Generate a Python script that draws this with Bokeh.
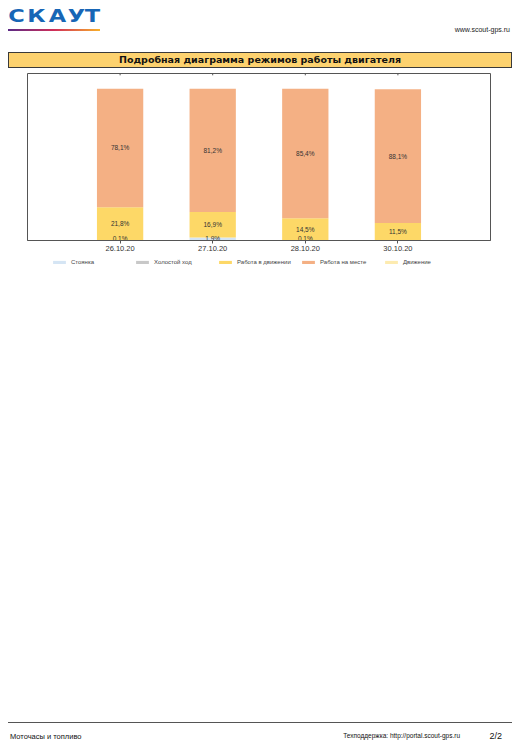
from bokeh.plotting import figure
from bokeh.layouts import column
from bokeh.models import (Range1d, FixedTicker, Legend, LegendItem, Spacer,
                          ColumnDataSource, LinearAxis, Div)
from bokeh.core.properties import value
from bokeh.embed import file_html
from bokeh.resources import INLINE

# ---------------- data ----------------
dates = ["26.10.20", "27.10.20", "28.10.20", "30.10.20"]
positions = [1, 2, 3, 4]
series_names = ["Стоянка", "Холостой ход", "Работа в движении", "Работа на месте", "Движение"]
stoyanka = [0.1, 1.9, 0.1, 0.0]
kholostoy = [0.0, 0.0, 0.0, 0.0]
rabota_dvizh = [21.8, 16.9, 14.5, 11.5]
rabota_mesto = [78.1, 81.2, 85.4, 88.1]
dvizhenie = [0.0, 0.0, 0.0, 0.0]
series_values = [stoyanka, kholostoy, rabota_dvizh, rabota_mesto, dvizhenie]
colors = ["#d5e5f4", "#c8c8c8", "#fdd867", "#f4b084", "#fdebb0"]

title_text = "Подробная диаграмма режимов работы двигателя"
logo_letters = ["С", "К", "А", "У", "Т"]
site_text = "www.scout-gps.ru"
footer_left = "Моточасы и топливо"
footer_mid = "Техподдержка: http://portal.scout-gps.ru"
footer_page = "2/2"

FONT = "Liberation Sans"

# ---------------- header (HTML) ----------------
logo_centers = [8, 28.5, 49, 68.5, 84.5]
logo_html = "".join(
    '<span style="position:absolute;left:%.1fpx;top:-1px;width:11px;text-align:center;'
    'white-space:nowrap;display:flex;justify-content:center;'
    'font-family:\'DejaVu Sans\';font-weight:bold;font-size:18px;line-height:18px;'
    'transform:scaleX(1.25);color:#1766b6;">%s</span>' % (c - 5.5, ch)
    for c, ch in zip(logo_centers, logo_letters))
header_html = (
    '<div style="position:relative;width:504px;height:65px;">'
    + logo_html +
    '<div style="position:absolute;left:0px;top:21px;width:92px;height:2px;'
    'background:linear-gradient(to right,#5b2a86,#d02f5a,#f8b02a);"></div>'
    '<span style="position:absolute;right:2px;top:18px;font-family:\'Liberation Sans\';'
    'font-size:7px;line-height:8px;color:#222;white-space:nowrap;">' + site_text + '</span>'
    '<div style="position:absolute;left:0px;top:44px;width:504px;height:16px;box-sizing:border-box;'
    'background:#fdd26f;border:1px solid #3a3a3a;text-align:center;font-family:\'DejaVu Sans\';'
    'font-weight:bold;font-size:9.5px;line-height:14px;color:#111;white-space:nowrap;">'
    + title_text + '</div>'
    '</div>')
hdr = Div(text=header_html, width=504, height=65, margin=0)

# ---------------- chart ----------------
p = figure(width=504, height=181, x_range=Range1d(0, 5), y_range=Range1d(0, 110),
           output_backend="svg", toolbar_location=None,
           x_axis_location=None, y_axis_location=None,
           min_border_left=19, min_border_right=22, min_border_top=0, min_border_bottom=14,
           outline_line_color="#555555", outline_line_width=1, margin=0)
p.grid.visible = False

data = {"x": positions}
for name, vals in zip(series_names, series_values):
    data[name] = vals
src = ColumnDataSource(data)
renderers = p.vbar_stack(stackers=series_names, x="x", width=0.5, color=colors,
                         line_color=None, source=src)

# segment labels
lx, ly, lt = [], [], []
for i, xpos in enumerate(positions):
    base = 0.0
    for vals in series_values:
        v = vals[i]
        if v > 0:
            lx.append(xpos)
            ly.append(max(base + v / 2, 1.3))
            lt.append(("%.1f%%" % v).replace(".", ","))
        base += v
p.text(x=lx, y=ly, text=lt, text_align="center", text_baseline="middle",
       text_font=value(FONT), text_font_size="6.5px", text_color="#333333")

# small ticks at top edge
p.segment(x0=positions, y0=[110] * 4, x1=positions, y1=[108.8] * 4,
          line_color="#555555", line_width=1)

xaxis = LinearAxis(ticker=FixedTicker(ticks=positions),
                   major_label_overrides={pos: d for pos, d in zip(positions, dates)},
                   axis_line_color="#555555", major_tick_line_color="#555555",
                   major_tick_out=3, major_tick_in=0, minor_tick_line_color=None,
                   major_label_standoff=2, major_label_text_font=FONT,
                   major_label_text_font_size="7.5px", major_label_text_color="#333333")
p.add_layout(xaxis, "below")

# ---------------- legend strip (same stacked series, zero-width so nothing is drawn) ----------------
pl = figure(width=504, height=16, x_range=Range1d(0, 5), y_range=Range1d(-2, -1),
            output_backend="svg", toolbar_location=None,
            x_axis_location=None, y_axis_location=None,
            min_border_left=19, min_border_right=22, min_border_top=0, min_border_bottom=0,
            outline_line_color=None, margin=0)
pl.grid.visible = False
leg_renderers = pl.vbar_stack(stackers=series_names, x="x", width=0, color=colors,
                              line_color=None, source=src)
legend = Legend(items=[LegendItem(label=n, renderers=[r]) for n, r in zip(series_names, leg_renderers)],
                orientation="horizontal", location=(24, 4),
                glyph_width=16, glyph_height=4, label_width=63, label_height=8,
                label_standoff=4, spacing=0, padding=2, margin=0,
                border_line_color=None, background_fill_alpha=0,
                label_text_font=FONT, label_text_font_size="6px",
                label_text_color="#444444")
pl.add_layout(legend)

# ---------------- footer (HTML) ----------------
footer_html = (
    '<div style="position:relative;width:504px;height:31px;">'
    '<div style="position:absolute;left:0px;top:10px;width:504px;height:0px;'
    'border-top:1px solid #555;"></div>'
    '<span style="position:absolute;left:2px;top:19.5px;font-family:\'Liberation Sans\';'
    'font-size:7.5px;line-height:9px;color:#111;white-space:nowrap;">' + footer_left + '</span>'
    '<span style="position:absolute;right:52px;top:20px;font-family:\'Liberation Sans\';'
    'font-size:6.5px;line-height:8px;color:#111;white-space:nowrap;">' + footer_mid + '</span>'
    '<span style="position:absolute;right:10px;top:18.5px;font-family:\'Liberation Sans\';'
    'font-size:9px;line-height:10px;color:#111;white-space:nowrap;">' + footer_page + '</span>'
    '</div>')
ftr = Div(text=footer_html, width=504, height=31, margin=0)

layout = column(hdr, p, pl, Spacer(width=504, height=442, margin=0), ftr, spacing=0,
                margin=(8, 8, 0, 8))

open("out.html", "w").write(file_html(layout, INLINE))
